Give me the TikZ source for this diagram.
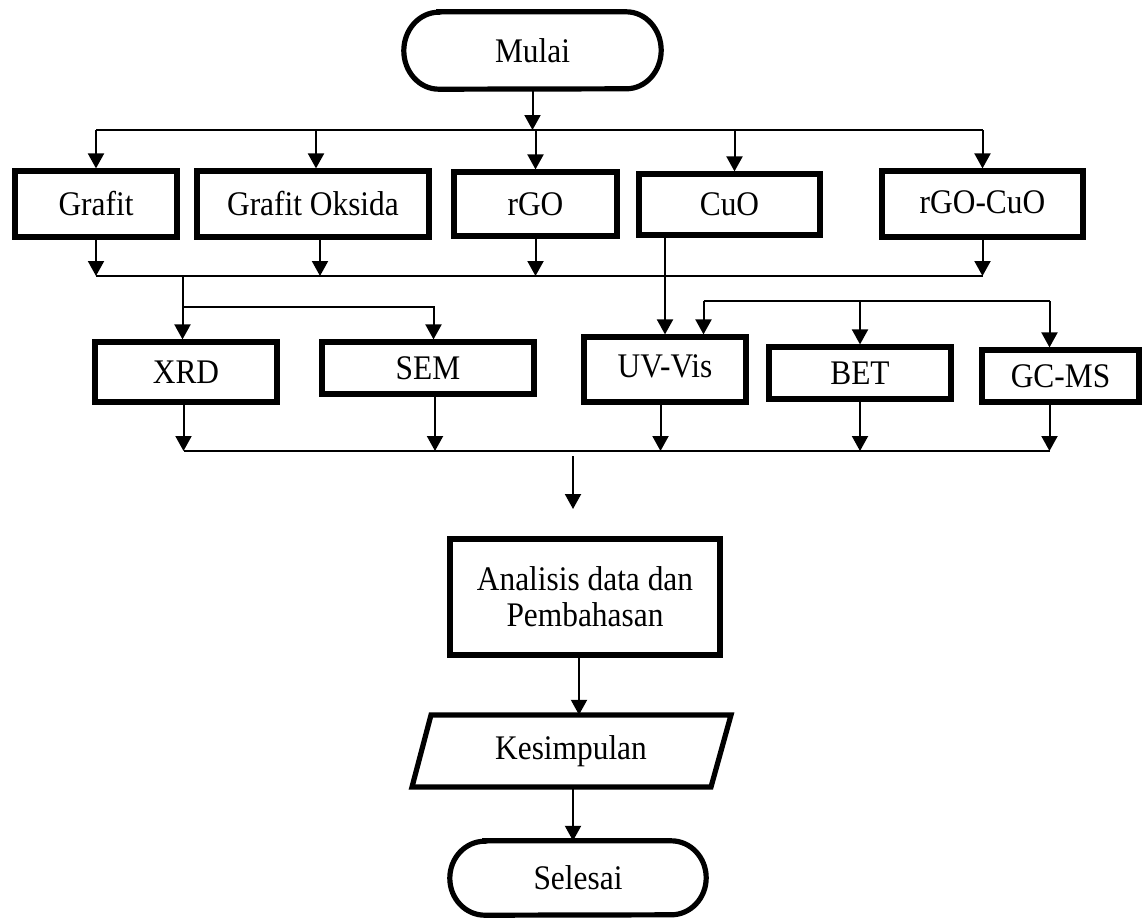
\documentclass[tikz,border=0pt]{standalone}
\usepackage{fontspec}
\setmainfont{Liberation Serif}[FakeStretch=0.91]
\usetikzlibrary{arrows.meta,calc}

\begin{document}
\begin{tikzpicture}[x=1pt,y=-1pt,
  every node/.style={font=\fontsize{34.5}{36}\selectfont, inner sep=0pt},
  box/.style={draw, line width=5.2pt, rectangle},
  outline/.style={line width=5.2pt, line join=miter},
  ln/.style={line width=2pt},
  arr/.style={line width=2pt, -{Triangle[width=16pt,length=15pt]}}]

\useasboundingbox (0,0) rectangle (1143,919);

% start terminal (elliptic ends)
\node[minimum width=257, minimum height=77] (mulai) at (532.5,50.5) {Mulai};
\draw[outline] ($(mulai.north west)+(35,0)$) -- ($(mulai.north east)+(-35,0)$)
  arc[start angle=-90, end angle=90, x radius=35, y radius=38.5]
  -- ($(mulai.south west)+(35,0)$)
  arc[start angle=90, end angle=270, x radius=35, y radius=38.5] -- cycle;

% materials row
\node[box, minimum width=162, minimum height=66] (grafit) at (96,204)   {Grafit};
\node[box, minimum width=232, minimum height=66] (gox)    at (313,204)  {Grafit Oksida};
\node[box, minimum width=163, minimum height=64] (rgo)    at (535.5,204){rGO};
\node[box, minimum width=181, minimum height=61] (cuo)    at (729.5,204.5){CuO};
\node[box, minimum width=201, minimum height=66] (rgocuo) at (982.5,204) {\raisebox{4pt}{rGO-CuO}};

% characterisation row
\node[box, minimum width=182, minimum height=60] (xrd)   at (186,372)    {XRD};
\node[box, minimum width=212, minimum height=52] (sem)   at (428,368)    {SEM};
\node[box, minimum width=162, minimum height=65] (uvvis) at (665,369.5)  {\raisebox{6pt}{UV-Vis}};
\node[box, minimum width=182, minimum height=52] (bet)   at (860,373)    {BET};
\node[box, minimum width=157, minimum height=52] (gcms)  at (1060.5,376) {GC-MS};

% analysis, conclusion, end
\node[box, minimum width=270, minimum height=116, align=center] (analisis) at (585,597)
  {Analisis data dan\\Pembahasan};
\node[minimum width=300, minimum height=72] (kes) at (571,751) {Kesimpulan};
\draw[outline] (431,715) -- (731,715) -- (711,787) -- (412,787) -- cycle;
\node[minimum width=256, minimum height=74] (selesai) at (578,878) {Selesai};
\draw[outline] ($(selesai.north west)+(35,0)$) -- ($(selesai.north east)+(-35,0)$)
  arc[start angle=-90, end angle=90, x radius=35, y radius=37]
  -- ($(selesai.south west)+(35,0)$)
  arc[start angle=90, end angle=270, x radius=35, y radius=37] -- cycle;

% bus levels
\coordinate (tb) at (0,130);   % distribution bus
\coordinate (cb) at (0,276);   % collection bus
\coordinate (xb) at (0,307);   % XRD/SEM branch
\coordinate (bb) at (0,301);   % UV-Vis/BET/GC-MS branch
\coordinate (fb) at (0,451);   % final collection bus

% entry/exit points shifted from centres
\coordinate (uvin)  at ($(uvvis.north)+(38.5,0)$);
\coordinate (gcin)  at ($(gcms.north)+(-11,0)$);
\coordinate (gcout) at ($(gcms.south)+(-11,0)$);
\coordinate (xrdin) at ($(xrd.north)+(-3.5,0)$);
\coordinate (xrdout) at ($(xrd.south)+(-2.5,0)$);
\coordinate (semin) at ($(sem.north)+(5.5,0)$);
\coordinate (semout) at ($(sem.south)+(7,0)$);
\coordinate (uvout) at ($(uvvis.south)+(-4.5,0)$);
\coordinate (goin) at ($(gox.north)+(3,0)$);
\coordinate (goout) at ($(gox.south)+(7,0)$);
\coordinate (cuoin) at ($(cuo.north)+(5,0)$);

% Mulai to materials
\draw[arr] (mulai.south) -- (mulai.south |- tb);
\draw[ln] (grafit.north |- tb) -- (rgocuo.north |- tb);
\draw[arr] (grafit.north |- tb) -- (grafit.north);
\draw[arr] (goin |- tb) -- (goin);
\draw[arr] (rgo.north |- tb) -- (rgo.north);
\draw[arr] (cuoin |- tb) -- (cuoin);
\draw[arr] (rgocuo.north |- tb) -- (rgocuo.north);

% materials to collection bus
\draw[arr] (grafit.south) -- (grafit.south |- cb);
\draw[arr] (goout) -- (goout |- cb);
\draw[arr] (rgo.south) -- (rgo.south |- cb);
\draw[arr] (rgocuo.south) -- (rgocuo.south |- cb);
\draw[ln] (grafit.south |- cb) -- (rgocuo.south |- cb);

% CuO straight down to UV-Vis
\draw[arr] (uvvis.north |- cuo.south) -- (uvvis.north);

% XRD and SEM branch
\draw[arr] (xrdin |- cb) -- (xrdin);
\draw[arr] (xrdin |- xb) -| (semin);

% UV-Vis, BET, GC-MS branch
\draw[ln] (uvin |- bb) -- (gcin |- bb);
\draw[arr] (uvin |- bb) -- (uvin);
\draw[arr] (bet.north |- bb) -- (bet.north);
\draw[arr] (gcin |- bb) -- (gcin);

% characterisation to final bus
\draw[ln] (xrdout |- fb) -- (gcout |- fb);
\draw[arr] (xrdout) -- (xrdout |- fb);
\draw[arr] (semout) -- (semout |- fb);
\draw[arr] (uvout) -- (uvout |- fb);
\draw[arr] (bet.south) -- (bet.south |- fb);
\draw[arr] (gcout) -- (gcout |- fb);

% arrow toward analysis
\coordinate (fa1) at (573,456);
\coordinate (fa2) at (573,509);
\draw[arr] (fa1) -- (fa2);

% analysis to conclusion to end
\draw[arr] ([xshift=-6pt]analisis.south) -- ([xshift=-6pt]analisis.south |- kes.north);
\draw[arr] ([xshift=2pt]kes.south) -- ([xshift=2pt]kes.south |- selesai.north);

\end{tikzpicture}
\end{document}
